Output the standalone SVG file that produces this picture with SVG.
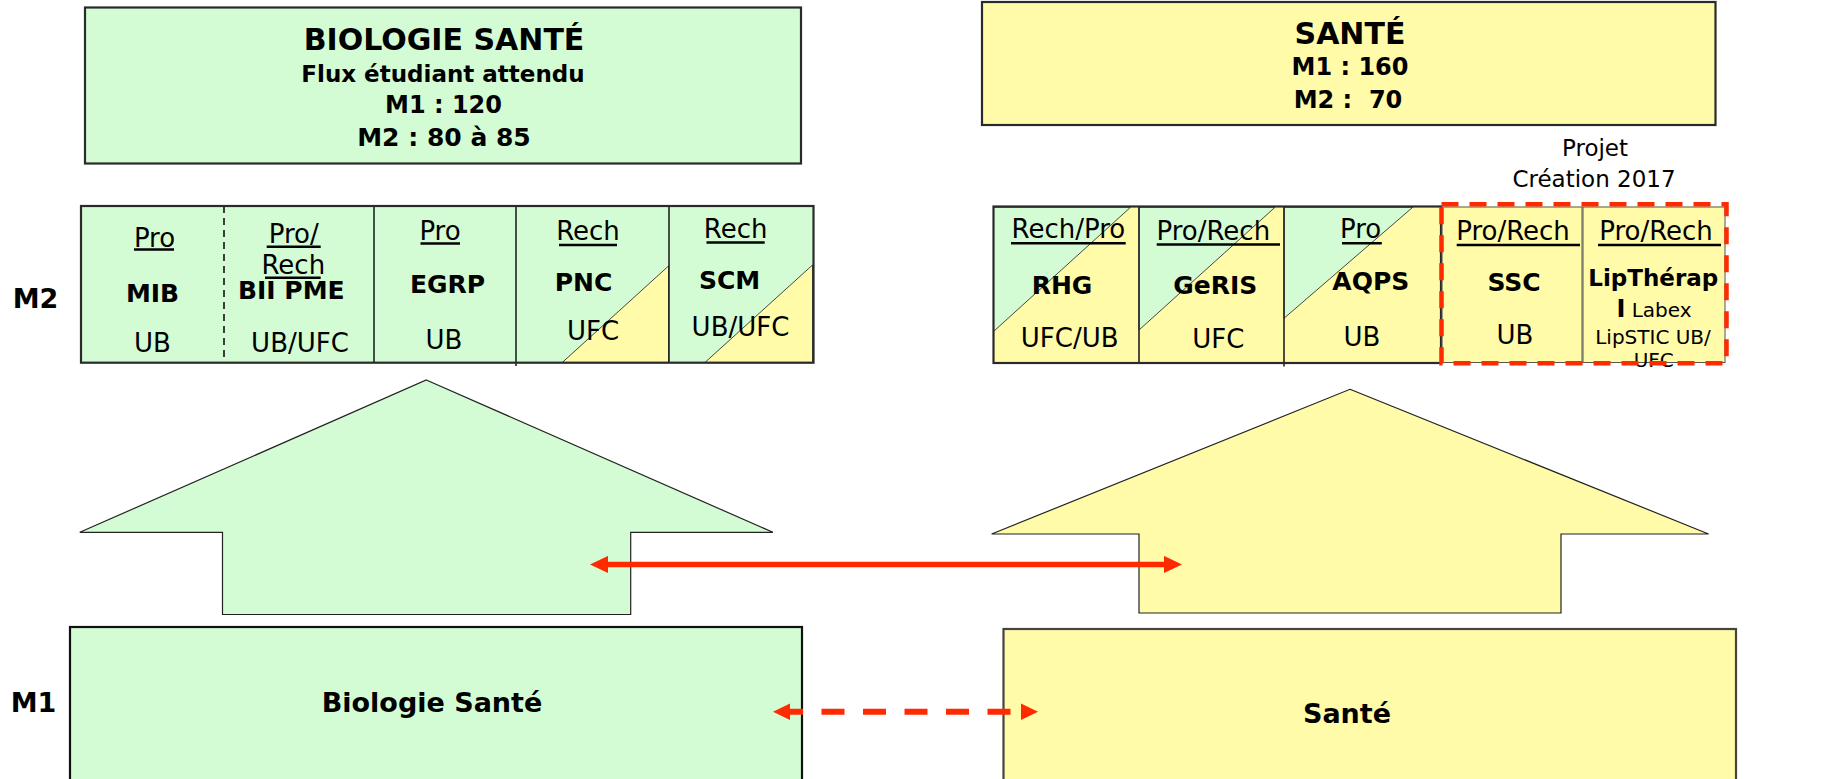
<svg xmlns="http://www.w3.org/2000/svg" width="1826" height="779" viewBox="0 0 1826 779">
<style>
  text { font-family: "DejaVu Sans", "Liberation Sans", sans-serif; text-anchor: middle; fill: #000; }
  .b { font-weight: bold; }
  .s30 { font-size: 30px; }
  .s27 { font-size: 27px; }
  .s26 { font-size: 26px; }
  .s25 { font-size: 25px; }
  .s24 { font-size: 24px; }
  .s23 { font-size: 23px; }
  .s20 { font-size: 20px; }
  .green { fill: #d4fcd4; }
  .yellow { fill: #fffba8; }
  .frame { fill: none; stroke: #2a2a2a; stroke-width: 2.2; }
  .div { stroke: #222; stroke-width: 1.6; fill: none; }
  .thin { fill: none; stroke: #555; stroke-width: 1; }
  .tri { stroke: #333; stroke-width: 0.9; }
  .ul { stroke: #000; stroke-width: 2.6; }
  .house { stroke: #222; stroke-width: 1.2; }
  .red { stroke: #ff2a00; fill: none; }
</style>
<defs>
  <marker id="ah" viewBox="0 -9 18 18" markerWidth="18" markerHeight="18" refX="0" refY="0" orient="auto-start-reverse" markerUnits="userSpaceOnUse">
    <path d="M0,-8.6 L18,0 L0,8.6 Z" fill="#ff2a00" stroke="none"/>
  </marker>
  <marker id="ahd" viewBox="0 -9 18 18" markerWidth="18" markerHeight="18" refX="0" refY="0" orient="auto-start-reverse" markerUnits="userSpaceOnUse">
    <path d="M0,-8.3 L17,0 L0,8.3 Z" fill="#ff2a00" stroke="none"/>
  </marker>
</defs>

<!-- Top left header box -->
<g id="header-biologie-sante">
  <rect x="85" y="7.5" width="716" height="156" class="green"/>
  <rect x="85" y="7.5" width="716" height="156" class="frame"/>
  <text x="444" y="50" class="b s30">BIOLOGIE SANTÉ</text>
  <text x="443" y="81.7" class="b s23">Flux étudiant attendu</text>
  <text x="443.5" y="113.3" class="b s24">M1 : 120</text>
  <text x="444" y="145.7" class="b s25">M2 : 80 à 85</text>
</g>

<!-- Top right header box -->
<g id="header-sante">
  <rect x="982" y="2" width="733.5" height="123" class="yellow"/>
  <rect x="982" y="2" width="733.5" height="123" class="frame"/>
  <text x="1350" y="44" class="b s30">SANTÉ</text>
  <text x="1350" y="75" class="b s24">M1 : 160</text>
  <text x="1348" y="108.3" class="b s24" xml:space="preserve" style="white-space:pre">M2 :  70</text>
</g>

<g id="label-projet">
  <text x="1595" y="156" class="s23">Projet</text>
  <text x="1594" y="187.3" class="s23">Création 2017</text>
</g>

<g id="label-m2"><text x="35.5" y="308" class="b s27">M2</text></g>
<g id="label-m1"><text x="33.5" y="711.7" class="b s27">M1</text></g>

<!-- Left M2 table -->
<g id="table-biologie">
  <rect x="81" y="206" width="732.5" height="156.7" class="green"/>
  <polygon points="562,362.7 668.5,266 668.5,362.7" class="yellow tri"/>
  <polygon points="704.7,362.7 812.5,265 812.5,362.7" class="yellow tri"/>
  <line x1="224" y1="206" x2="224" y2="362.7" stroke="#111" stroke-width="1.6" stroke-dasharray="7 5"/>
  <line x1="374" y1="206" x2="374" y2="362.7" class="div"/>
  <line x1="516" y1="206" x2="516" y2="366" class="div"/>
  <line x1="669" y1="206" x2="669" y2="362.7" class="div"/>
  <rect x="81" y="206" width="732.5" height="156.7" class="frame"/>

  <g id="cell-mib">
    <text x="154.5" y="246.5" class="s26">Pro</text>
    <line x1="134" y1="249.5" x2="174" y2="249.5" class="ul"/>
    <text x="152.5" y="302" class="b s25">MIB</text>
    <text x="152.5" y="351.7" class="s26">UB</text>
  </g>
  <g id="cell-bii-pme">
    <text x="293.7" y="243" class="s26">Pro/</text>
    <line x1="266.7" y1="246.7" x2="320.7" y2="246.7" class="ul"/>
    <text x="293.3" y="274" class="s26">Rech</text>
    <line x1="265" y1="277.7" x2="320.7" y2="277.7" class="ul"/>
    <text x="291.3" y="299" class="b s25">BII PME</text>
    <text x="300" y="351.7" class="s26">UB/UFC</text>
  </g>
  <g id="cell-egrp">
    <text x="440" y="240" class="s26">Pro</text>
    <line x1="420.5" y1="243.5" x2="460" y2="243.5" class="ul"/>
    <text x="447.6" y="293.3" class="b s25">EGRP</text>
    <text x="444" y="349.3" class="s26">UB</text>
  </g>
  <g id="cell-pnc">
    <text x="588" y="240" class="s26">Rech</text>
    <line x1="559" y1="245" x2="617" y2="245" class="ul"/>
    <text x="583.6" y="291" class="b s25">PNC</text>
    <text x="593" y="340" class="s26">UFC</text>
  </g>
  <g id="cell-scm">
    <text x="735.6" y="238.3" class="s26">Rech</text>
    <line x1="706.5" y1="242.5" x2="764.7" y2="242.5" class="ul"/>
    <text x="729.5" y="289.3" class="b s25">SCM</text>
    <text x="740.5" y="335.7" class="s26">UB/UFC</text>
  </g>
</g>

<!-- Right M2 table -->
<g id="table-sante">
  <rect x="993.5" y="206.5" width="732" height="156.5" class="yellow"/>
  <polygon points="993.5,207.3 1130.5,207.3 993.5,331.5" class="green tri"/>
  <polygon points="1139,207.3 1275,207.3 1139,330" class="green tri"/>
  <polygon points="1284,207.3 1412.7,207.3 1284,318.3" class="green tri"/>
  <line x1="1139" y1="206.5" x2="1139" y2="363" class="div"/>
  <line x1="1284" y1="206.5" x2="1284" y2="366.5" class="div"/>
  <rect x="993.5" y="206.5" width="447.5" height="156.5" class="frame"/>
  <rect x="1442" y="207" width="140" height="155.5" class="thin"/>
  <rect x="1583" y="207" width="142" height="155.5" class="thin"/>

  <g id="cell-rhg">
    <text x="1068.4" y="238.3" class="s26">Rech/Pro</text>
    <line x1="1011" y1="243.3" x2="1125.7" y2="243.3" class="ul"/>
    <text x="1062" y="294.3" class="b s25">RHG</text>
    <text x="1069.7" y="346.7" class="s26">UFC/UB</text>
  </g>
  <g id="cell-geris">
    <text x="1213.3" y="240" class="s26">Pro/Rech</text>
    <line x1="1156.7" y1="244.5" x2="1280" y2="244.5" class="ul"/>
    <text x="1215.3" y="294.3" class="b s25">GeRIS</text>
    <text x="1218.3" y="348.3" class="s26">UFC</text>
  </g>
  <g id="cell-aqps">
    <text x="1360.6" y="238.3" class="s26">Pro</text>
    <line x1="1342" y1="243.3" x2="1381.8" y2="243.3" class="ul"/>
    <text x="1370.8" y="290" class="b s25">AQPS</text>
    <text x="1362" y="346" class="s26">UB</text>
  </g>
  <g id="cell-ssc">
    <text x="1513" y="240" class="s26">Pro/Rech</text>
    <line x1="1456.7" y1="245" x2="1580" y2="245" class="ul"/>
    <text x="1514" y="290.7" class="b s25">SSC</text>
    <text x="1515" y="344" class="s26">UB</text>
  </g>
  <g id="cell-lipterapi">
    <text x="1656" y="240" class="s26">Pro/Rech</text>
    <line x1="1598" y1="245" x2="1721" y2="245" class="ul"/>
    <text x="1653.3" y="285.7" class="b s23">LipThérap</text>
    <text x="1654" y="316.7"><tspan class="b s24">I</tspan><tspan class="s20"> Labex</tspan></text>
    <text x="1653" y="344.3" class="s20">LipSTIC UB/</text>
    <text x="1653.7" y="366.7" class="s20">UFC</text>
  </g>
</g>

<g id="frame-projet-2017">
  <rect x="1441.5" y="204.3" width="285" height="159" class="red" stroke-width="4.5" stroke-dasharray="17 11"/>
</g>

<!-- House arrows -->
<g id="arrow-biologie">
  <polygon points="426.3,380 772.9,532.3 630.7,532.3 630.7,614.5 222.5,614.5 222.5,532.3 79.8,532.3" class="green house"/>
</g>
<g id="arrow-sante">
  <polygon points="1350,389.3 1708.6,534 1561,534 1561,613 1139,613 1139,534 991.6,534" class="yellow house"/>
</g>

<!-- M1 boxes -->
<g id="box-biologie-sante">
  <rect x="70" y="627" width="732" height="170" class="green"/>
  <rect x="70" y="627" width="732" height="170" fill="none" stroke="#111" stroke-width="2.2"/>
  <text x="432" y="711.7" class="b s27">Biologie Santé</text>
</g>
<g id="box-sante">
  <rect x="1003.5" y="629" width="732.5" height="170" class="yellow"/>
  <rect x="1003.5" y="629" width="732.5" height="170" fill="none" stroke="#444" stroke-width="2.2"/>
  <text x="1347" y="723.3" class="b s27">Santé</text>
</g>

<!-- Connectors -->
<g id="connectors">
  <line x1="608" y1="564.5" x2="1164" y2="564.5" class="red" stroke-width="5.3" marker-start="url(#ah)" marker-end="url(#ah)"/>
  <line x1="790" y1="711.7" x2="1021" y2="711.7" class="red" stroke-width="6" stroke-dasharray="23 18.5" stroke-dashoffset="10" marker-start="url(#ahd)" marker-end="url(#ahd)"/>
</g>
</svg>
